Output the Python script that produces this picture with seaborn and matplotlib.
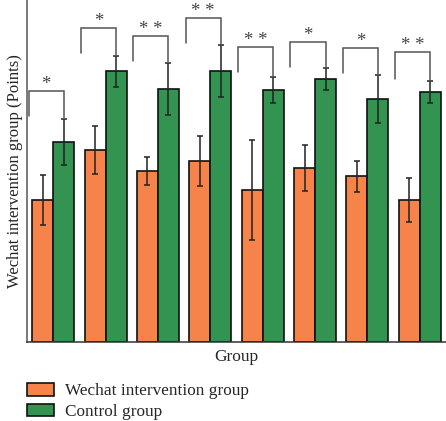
import numpy as np
import pandas as pd
import matplotlib
matplotlib.use("Agg")
import matplotlib.pyplot as plt
import seaborn as sns

# ## data (arbitrary point scale 0-100)
groups = ["1", "2", "3", "4", "5", "6", "7", "8"]
wechat_mean = [41.5, 56.1, 50.0, 52.9, 44.4, 50.9, 48.5, 41.5]
wechat_err = [7.2, 7.0, 4.2, 7.3, 14.6, 6.7, 4.5, 6.4]
control_mean = [58.5, 79.2, 74.0, 79.2, 73.7, 76.9, 71.1, 73.1]
control_err = [6.7, 4.5, 7.7, 7.5, 3.8, 3.2, 7.0, 3.2]
bracket_top = [73.4, 91.8, 89.5, 94.7, 86.3, 87.7, 86.0, 84.8]
bracket_left_low = [66.1, 84.5, 82.2, 87.4, 78.9, 80.4, 78.7, 76.9]
stars = ["*", "*", "**", "**", "**", "*", "*", "**"]

series_names = ["Wechat intervention group", "Control group"]
colors = ["#F5834A", "#339350"]

df = pd.DataFrame({
    "Group": groups * 2,
    "Series": [series_names[0]] * len(groups) + [series_names[1]] * len(groups),
    "Value": wechat_mean + control_mean,
})

sns.set_style("white")
plt.rcParams["font.family"] = ["Liberation Serif", "DejaVu Serif"]

fig = plt.figure(figsize=(4.46, 4.21), dpi=100)
ax = fig.add_axes([27 / 446, 79 / 421, 1 - 27 / 446, 342 / 421])

sns.barplot(data=df, x="Group", y="Value", hue="Series", palette=colors,
            edgecolor="#111111", linewidth=1.2, width=0.8, saturation=1,
            errorbar=None, legend=False, ax=ax)

# error bars on top of the bars
x = np.arange(len(groups))
ax.errorbar(x - 0.2, wechat_mean, yerr=wechat_err, fmt="none", ecolor="#222222",
            elinewidth=1.1, capsize=2.3, capthick=1.1)
ax.errorbar(x + 0.2, control_mean, yerr=control_err, fmt="none", ecolor="#222222",
            elinewidth=1.1, capsize=2.3, capthick=1.1)

# significance brackets
for i in range(len(groups)):
    xl = i - 0.47
    xr = i + 0.2
    right_low = control_mean[i] + control_err[i]
    ax.plot([xl, xl, xr, xr], [bracket_left_low[i], bracket_top[i], bracket_top[i], right_low],
            color="#555555", lw=1.1, solid_joinstyle="miter")
    ax.text((xl + xr) / 2, bracket_top[i] - 0.5, " ".join(stars[i]), ha="center", va="bottom",
            fontsize=13.5, color="#444444")

ax.set_xlim(-0.5, 7.5)
ax.set_ylim(0, 100)
ax.set_xticks([])
ax.set_yticks([])
ax.set_xlabel("Group", fontsize=12.5, labelpad=5)
ax.set_ylabel("Wechat intervention group (Points)", fontsize=12, labelpad=3)
for side in ["top", "right"]:
    ax.spines[side].set_visible(False)
ax.spines["left"].set_color("#555555")
ax.spines["bottom"].set_color("#333333")
ax.spines["left"].set_linewidth(1.1)
ax.spines["bottom"].set_linewidth(1.1)

handles = [plt.Rectangle((0, 0), 1, 1, facecolor=c, edgecolor="#111111", linewidth=1.2) for c in colors]
fig.legend(handles, series_names, loc="upper left", bbox_to_anchor=(20 / 446, 1 - 376 / 421),
           frameon=False, fontsize=12.4, handlelength=1.6, handleheight=0.75,
           handletextpad=0.6, labelspacing=0.25, borderaxespad=0)

fig.savefig("out.png", dpi=100)
